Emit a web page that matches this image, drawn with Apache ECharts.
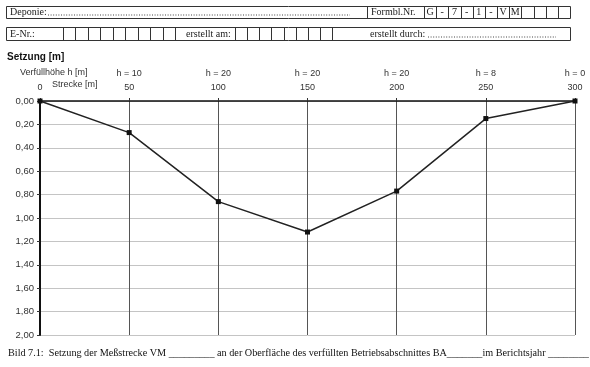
<!DOCTYPE html>
<html>
<head>
<meta charset="utf-8">
<script src="https://cdn.jsdelivr.net/npm/echarts@6/dist/echarts.min.js"></script>
<style>
html,body{margin:0;padding:0;background:#fff;}
#chart{width:590px;height:367px;}
</style>
</head>
<body>
<div id="chart"></div>
<script>
// ---- data ----
var strecke = [0, 50, 100, 150, 200, 250, 300];
var setzung = [0.00, 0.27, 0.86, 1.12, 0.77, 0.15, 0.00];
var hLabels = ['', 'h = 10', 'h = 20', 'h = 20', 'h = 20', 'h = 8', 'h = 0'];
var yTicks = [0, 0.2, 0.4, 0.6, 0.8, 1.0, 1.2, 1.4, 1.6, 1.8, 2.0];
var formCode = ['G', '-', '7', '-', '1', '-', 'V', 'M', '', '', '', ''];

var chart = echarts.init(document.getElementById('chart'), null, {renderer: 'canvas'});

var serif = '"Liberation Serif", "DejaVu Serif", serif';
var sans = '"Liberation Sans", Arial, sans-serif';

var graphics = [];
function rect(x, y, w, h) {
  graphics.push({type: 'rect', shape: {x: x + 0.5, y: y + 0.5, width: w, height: h},
    style: {fill: 'none', stroke: '#333', lineWidth: 1}, silent: true});
}
function vline(x, y1, y2) {
  graphics.push({type: 'line', shape: {x1: x + 0.5, y1: y1, x2: x + 0.5, y2: y2},
    style: {stroke: '#333', lineWidth: 1}, silent: true});
}
function text(x, y, t, font, opts) {
  var o = {type: 'text', x: x, y: y, style: Object.assign({text: t, font: font, fill: '#222', textVerticalAlign: 'middle'}, opts || {}), silent: true};
  graphics.push(o);
}
function dots(x1, x2, y) {
  graphics.push({type: 'line', shape: {x1: x1, y1: y, x2: x2, y2: y},
    style: {stroke: '#444', lineWidth: 1, lineDash: [1, 1.6]}, silent: true});
}

// Row 1
rect(6, 6, 564, 12);
vline(367, 6, 18);
vline(424, 6, 18);
text(10, 12.5, 'Deponie:', '10px ' + serif);
dots(48, 350, 15);
text(371, 12.5, 'Formbl.Nr.', '10px ' + serif);
var cw = 146 / formCode.length;
for (var i = 0; i < formCode.length; i++) {
  var cx = 424 + i * cw;
  if (i > 0) vline(Math.round(cx), 6, 18);
  if (formCode[i]) text(cx + cw / 2, 12.5, formCode[i], '10px ' + serif, {textAlign: 'center'});
}
// Row 2
rect(6, 27, 564, 13);
vline(63, 27, 40);
text(10, 34, 'E-Nr.:', '10px ' + serif);
for (var j = 0; j <= 9; j++) vline(Math.round(63 + j * 112 / 9), 27, 40);
text(186, 34, 'erstellt am:', '10px ' + serif);
for (var k = 0; k <= 8; k++) vline(Math.round(235 + k * 97 / 8), 27, 40);
text(370, 34, 'erstellt durch:', '10px ' + serif);
dots(428, 556, 37);

// axis titles
text(7, 57, 'Setzung [m]', 'bold 10px ' + sans, {fill: '#111'});
text(20, 73, 'Verfüllhöhe h [m]', '9px ' + sans, {fill: '#333'});
text(52, 85, 'Strecke [m]', '9px ' + sans, {fill: '#333'});

// caption
text(8, 353, 'Bild 7.1:  Setzung der Meßstrecke VM _________ an der Oberfläche des verfüllten Betriebsabschnittes BA_______im Berichtsjahr ________', '10.2px ' + serif, {fill: '#111'});

var option = {
  animation: false,
  backgroundColor: '#fff',
  grid: {left: 40, right: 15, top: 101, bottom: 32},
  xAxis: [{
    type: 'value', position: 'top', min: 0, max: 300, interval: 50,
    axisLine: {show: true, onZero: false, lineStyle: {color: '#111', width: 1.5}},
    axisTick: {show: true, length: 3, lineStyle: {color: '#333'}},
    axisLabel: {show: true, margin: 9, color: '#333', fontSize: 9, fontFamily: sans},
    splitLine: {show: true, lineStyle: {color: '#555', width: 1}}
  }, {
    type: 'value', position: 'top', min: 0, max: 300, interval: 50, offset: 14,
    axisLine: {show: false}, axisTick: {show: false},
    axisLabel: {show: true, margin: 9, color: '#333', fontSize: 9, fontFamily: sans,
      formatter: function (v) { var idx = strecke.indexOf(v); return idx >= 0 ? hLabels[idx] : ''; }},
    splitLine: {show: false}
  }],
  yAxis: {
    type: 'value', inverse: true, min: yTicks[0], max: yTicks[yTicks.length - 1], interval: 0.2,
    axisLine: {show: true, onZero: false, lineStyle: {color: '#111', width: 2}},
    axisTick: {show: true, length: 3, lineStyle: {color: '#333'}},
    axisLabel: {color: '#333', fontSize: 9.5, fontFamily: sans, margin: 6,
      formatter: function (v) { return v.toFixed(2).replace('.', ','); }},
    splitLine: {show: true, lineStyle: {color: '#c4c4c4', width: 1}}
  },
  series: [{
    type: 'line',
    xAxisIndex: 0,
    data: strecke.map(function (s, i) { return [s, setzung[i]]; }),
    symbol: 'rect', symbolSize: 5,
    lineStyle: {color: '#222', width: 1.5},
    itemStyle: {color: '#111'}
  }],
  graphic: graphics
};
chart.setOption(option);
</script>
</body>
</html>
